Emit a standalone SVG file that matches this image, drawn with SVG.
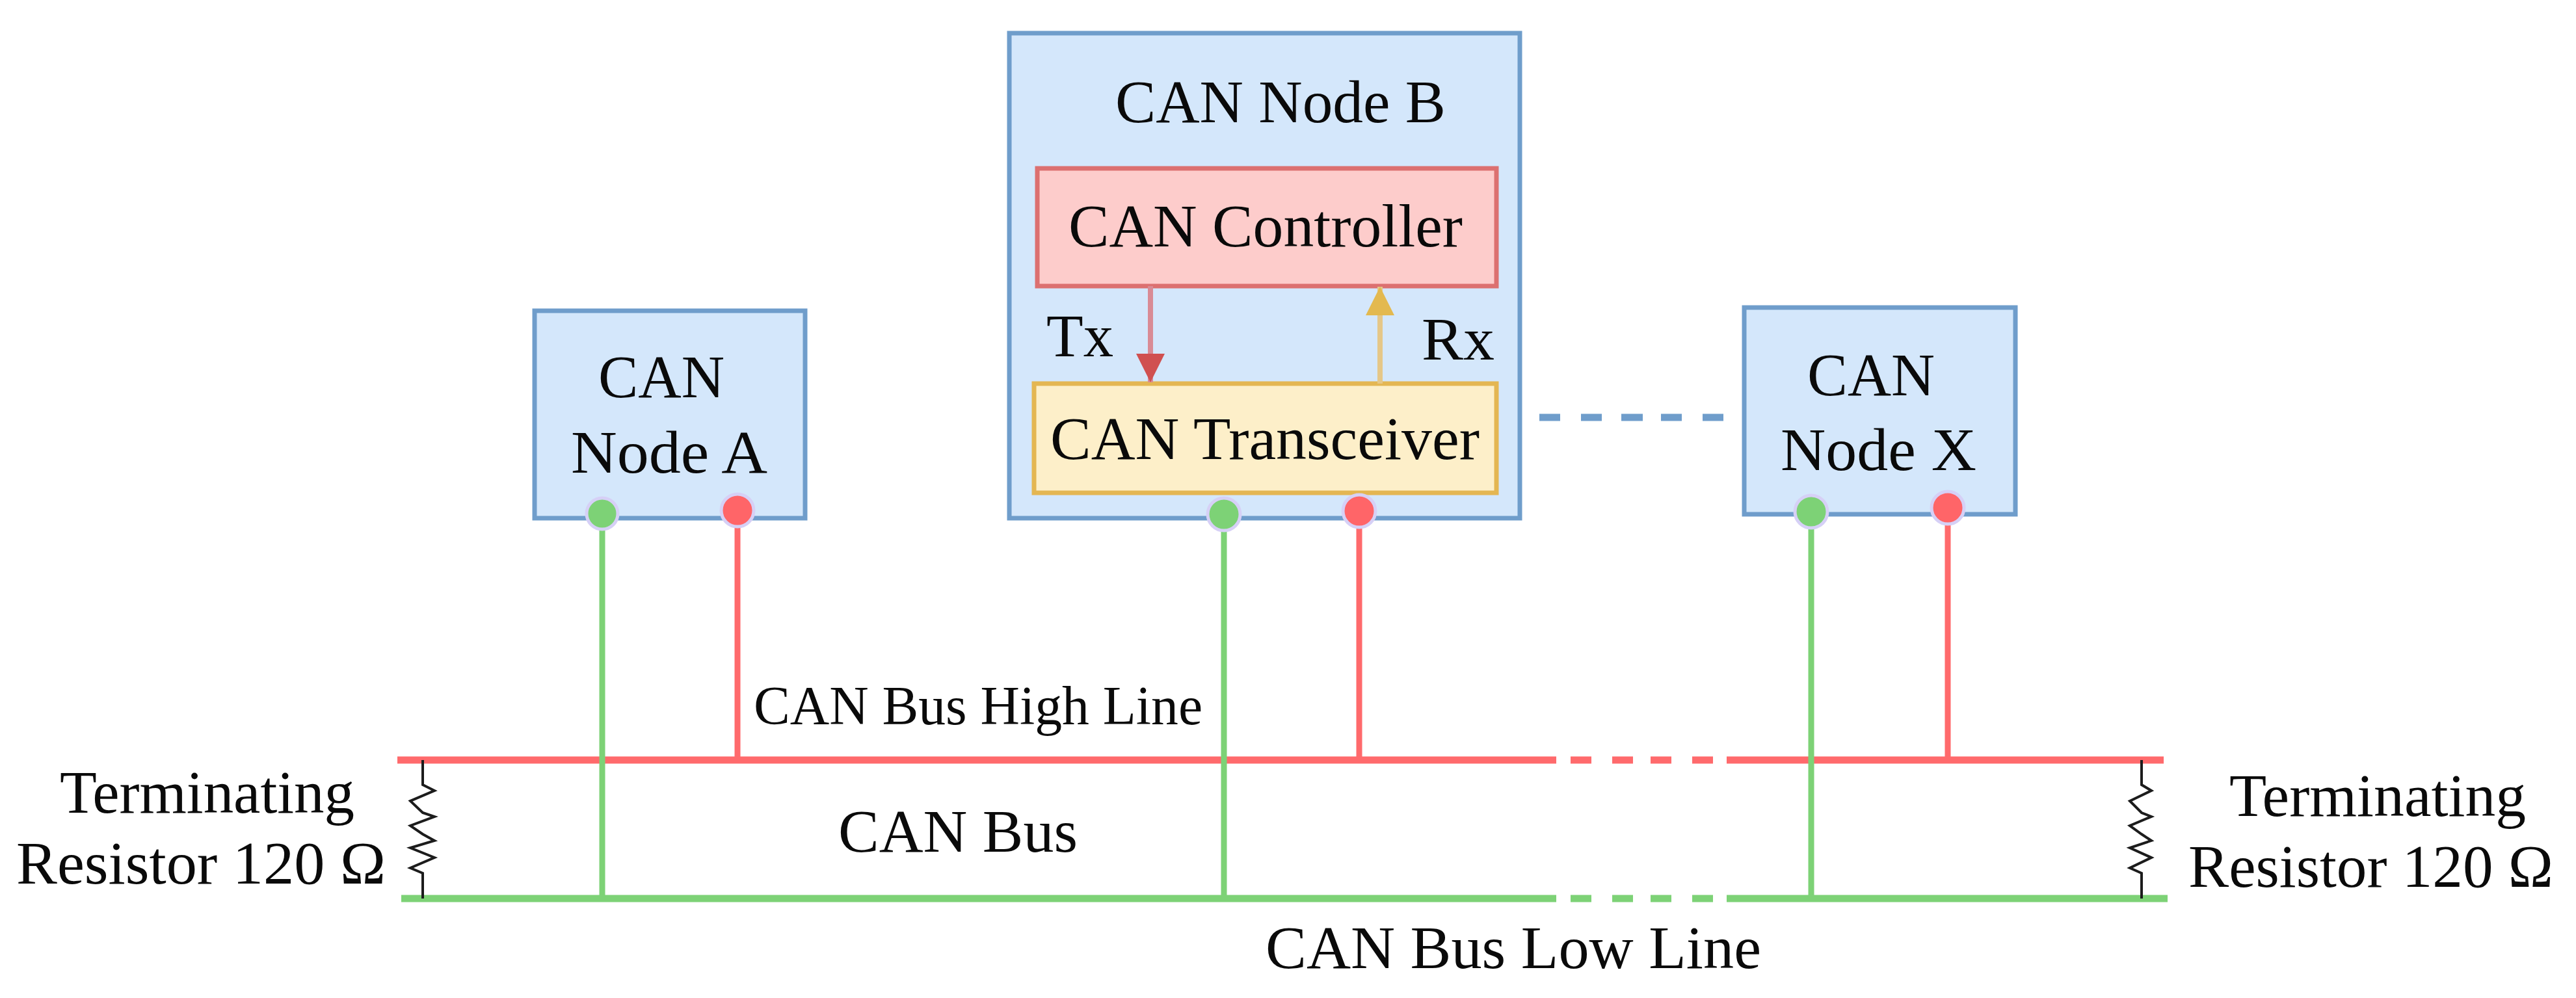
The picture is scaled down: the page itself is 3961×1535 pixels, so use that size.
<svg xmlns="http://www.w3.org/2000/svg" width="3961" height="1535" viewBox="0 0 3961 1535">
<style>
text{font-family:"Liberation Serif","Times New Roman",serif;font-size:93px;fill:#0a0a0a}
.small{font-size:84px}
.box{fill:#d4e7fb;stroke:#6f9dcb;stroke-width:7}
.ctrl{fill:#fdcccb;stroke:#dc7070;stroke-width:7}
.trx{fill:#fdefc9;stroke:#e4b652;stroke-width:7}
.g{stroke:#7dd276;fill:none}
.r{stroke:#ff6a6c;fill:none}
.v{stroke-width:9}
.bus{stroke-width:11}
.gd{fill:#7dd276;stroke:#d6d0f6;stroke-width:5}
.rd{fill:#ff6568;stroke:#d6d0f6;stroke-width:5}
.res{fill:none;stroke:#1c1c1c;stroke-width:4}
</style>
<defs>
<marker id="ah-tx" markerUnits="userSpaceOnUse" markerWidth="44" markerHeight="44" refX="44" refY="22" orient="auto"><path d="M0 0L44 22L0 44Z" fill="#d05050"/></marker>
<marker id="ah-rx" markerUnits="userSpaceOnUse" markerWidth="44" markerHeight="44" refX="44" refY="22" orient="auto"><path d="M0 0L44 22L0 44Z" fill="#e3b94f"/></marker>
</defs>
<rect width="3961" height="1535" fill="#fff"/>
<g id="node-a">
<rect class="box" x="822" y="478" width="416" height="319"/>
<text x="920" y="611" textLength="194" lengthAdjust="spacingAndGlyphs">CAN</text>
<text x="878" y="727" textLength="302" lengthAdjust="spacingAndGlyphs">Node A</text>
</g>
<g id="node-b">
<rect class="box" x="1552" y="51" width="785" height="746"/>
<text x="1715" y="188" textLength="508" lengthAdjust="spacingAndGlyphs">CAN Node B</text>
</g>
<g id="can-controller">
<rect class="ctrl" x="1595" y="259" width="706" height="181"/>
<text x="1643" y="379" textLength="606" lengthAdjust="spacingAndGlyphs">CAN Controller</text>
</g>
<g id="can-transceiver">
<rect class="trx" x="1590" y="590" width="711" height="168"/>
<text x="1615" y="706" textLength="660" lengthAdjust="spacingAndGlyphs">CAN Transceiver</text>
</g>
<g id="node-x">
<rect class="box" x="2682" y="473" width="417" height="318"/>
<text x="2779" y="608" textLength="196" lengthAdjust="spacingAndGlyphs">CAN</text>
<text x="2738" y="723" textLength="301" lengthAdjust="spacingAndGlyphs">Node X</text>
</g>
<g id="connectors">
<path d="M1769 440V588" stroke="#d98b95" stroke-width="8" fill="none" marker-end="url(#ah-tx)"/>
<path d="M2122 590V441" stroke="#e5c788" stroke-width="8" fill="none" marker-end="url(#ah-rx)"/>
<path class="g bus" d="M617 1382H2393M2415 1382H2447M2479 1382H2511M2538 1382H2570M2602 1382H2634M2655 1382H3333"/>
<path class="r bus" d="M611 1169H2393M2415 1169H2447M2479 1169H2511M2538 1169H2570M2602 1169H2634M2655 1169H3327"/>
<path class="g v" d="M926 790V1382M1882 791V1382M2785 787V1382"/>
<path class="r v" d="M1134 785V1169M2090 786V1169M2995 781V1169"/>
<path d="M2367 642H2399M2431 642H2463M2493 642H2526M2554 642H2586M2618 642H2650" stroke="#6f9dcb" stroke-width="11" fill="none"/>
<path class="res" d="M650 1169V1207L668 1216L631 1232L650 1250L668 1256L631 1270L650 1283L668 1293L631 1304L668 1319L631 1335L650 1343V1382"/>
<path class="res" d="M3293 1169V1207L3308 1216L3275 1232L3293 1250L3308 1256L3275 1270L3293 1283L3308 1293L3275 1304L3308 1319L3275 1335L3293 1343V1382"/>
</g>
<g id="ports">
<circle class="gd" cx="926" cy="790" r="24"/><circle class="rd" cx="1134" cy="785" r="25"/>
<circle class="gd" cx="1882" cy="791" r="25"/><circle class="rd" cx="2090" cy="786" r="25"/>
<circle class="gd" cx="2785" cy="787" r="25"/><circle class="rd" cx="2995" cy="781" r="25"/>
</g>
<g id="labels">
<text x="1609" y="548" textLength="103" lengthAdjust="spacingAndGlyphs">Tx</text>
<text x="2186" y="553" textLength="112" lengthAdjust="spacingAndGlyphs">Rx</text>
<text class="small" x="1159" y="1114" textLength="690" lengthAdjust="spacingAndGlyphs">CAN Bus High Line</text>
<text x="1289" y="1310" textLength="368" lengthAdjust="spacingAndGlyphs">CAN Bus</text>
<text x="1946" y="1489" textLength="762" lengthAdjust="spacingAndGlyphs">CAN Bus Low Line</text>
<text x="92" y="1250" textLength="453" lengthAdjust="spacingAndGlyphs">Terminating</text>
<text x="25" y="1359" textLength="568" lengthAdjust="spacingAndGlyphs">Resistor 120 Ω</text>
<text x="3428" y="1255" textLength="456" lengthAdjust="spacingAndGlyphs">Terminating</text>
<text x="3365" y="1364" textLength="561" lengthAdjust="spacingAndGlyphs">Resistor 120 Ω</text>
</g>
</svg>
